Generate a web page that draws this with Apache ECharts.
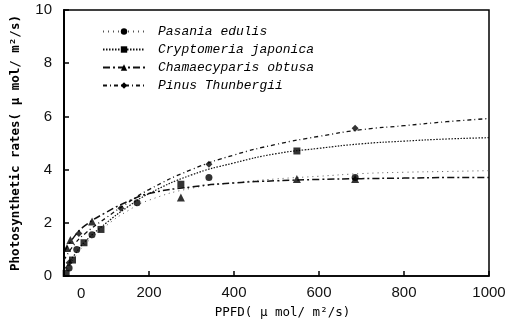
<!DOCTYPE html>
<html><head><meta charset="utf-8">
<script src="https://cdn.jsdelivr.net/npm/echarts@6/dist/echarts.min.js"></script>
<style>html,body{margin:0;padding:0;background:#fff}#c{width:511px;height:324px}</style>
</head><body><div id="c"></div>
<script>
const speciesNames = ['Pasania edulis', 'Cryptomeria japonica', 'Chamaecyparis obtusa', 'Pinus Thunbergii'];
const xTicks = [0, 200, 400, 600, 800, 1000];
const yTicks = [0, 2, 4, 6, 8, 10];
// fitted-curve sampling PPFD values
const curveX = [0, 25, 50, 100, 150, 200, 300, 400, 500, 600, 700, 800, 900, 1000];
const curvePasania = [0.1, 0.7, 1.2, 1.9, 2.45, 2.85, 3.3, 3.5, 3.65, 3.75, 3.85, 3.9, 3.93, 3.96];
const curveCryptomeria = [0.2, 0.8, 1.3, 2.0, 2.6, 3.1, 3.8, 4.25, 4.6, 4.8, 4.97, 5.07, 5.15, 5.2];
const curveChamaecyparis = [0.9, 1.5, 1.9, 2.4, 2.8, 3.1, 3.35, 3.5, 3.58, 3.63, 3.66, 3.68, 3.7, 3.7];
const curvePinus = [0.6, 1.2, 1.6, 2.2, 2.75, 3.25, 4.0, 4.55, 4.95, 5.25, 5.5, 5.65, 5.8, 5.92];
// measured points [PPFD, rate]
const ptsPasania = [[12, 0.3], [30, 1.0], [66, 1.55], [172, 2.75], [341, 3.7], [685, 3.7]];
const ptsCryptomeria = [[5, 0.1], [20, 0.6], [47, 1.25], [87, 1.75], [275, 3.45], [548, 4.7]];
const ptsChamaecyparis = [[7, 1.05], [15, 1.35], [66, 2.05], [275, 2.95], [548, 3.65], [685, 3.65]];
const ptsPinus = [[12, 0.5], [35, 1.6], [134, 2.55], [341, 4.2], [685, 5.55]];

const zip = (xs, ys) => xs.map((x, i) => [x, ys[i]]);
const curves = [curvePasania, curveCryptomeria, curveChamaecyparis, curvePinus];
const pts = [ptsPasania, ptsCryptomeria, ptsChamaecyparis, ptsPinus];
const symbols = ['circle', 'rect', 'triangle', 'diamond'];
const symSizes = [7, 7, 8, 7];
const dashes = [[1, 4], [1.5, 1.5], [7, 3, 2, 3], [4, 3, 1, 3]];
const lineColors = ['#555', '#111', '#111', '#111'];
const lineWidths = [1, 1.2, 1.5, 1.3];

const series = [];
speciesNames.forEach((n, i) => {
  series.push({
    name: n, type: 'line', smooth: true, showSymbol: false,
    symbol: symbols[i], symbolSize: symSizes[i],
    data: zip(curveX, curves[i]),
    itemStyle: { color: '#000' },
    lineStyle: { color: lineColors[i], width: lineWidths[i], type: dashes[i] },
    z: 2
  });
  series.push({
    name: n, type: 'scatter', symbol: symbols[i], symbolSize: symSizes[i],
    data: pts[i], itemStyle: { color: '#000' }, z: 3
  });
});

const GRID = { left: 64, right: 22, top: 10, bottom: 47 };
const chart = echarts.init(document.getElementById('c'), null, { renderer: 'canvas' });
chart.setOption({
  animation: false,
  backgroundColor: '#fff',
  grid: { left: GRID.left, right: GRID.right, top: GRID.top, bottom: GRID.bottom, show: true, borderColor: '#000', borderWidth: 1.5 },
  legend: {
    data: speciesNames, orient: 'vertical', left: 97, top: 20, itemGap: 5,
    itemWidth: 42, itemHeight: 8, selectedMode: false,
    textStyle: { fontFamily: 'Liberation Mono', fontStyle: 'italic', fontSize: 13, color: '#000', padding: [0, 0, 0, 8] }
  },
  graphic: {
    elements: [{
      type: 'text', left: GRID.left + 13, top: 324 - GRID.bottom + 9, z: 100,
      style: { text: '0', fontFamily: 'Liberation Sans', fontSize: 15, fill: '#111' }
    }]
  },
  xAxis: {
    type: 'value', min: xTicks[0], max: xTicks[xTicks.length - 1], interval: 200,
    name: 'PPFD( μ mol/ m²/s)', nameLocation: 'middle', nameGap: 30,
    nameTextStyle: { fontFamily: 'DejaVu Sans Mono', fontSize: 12.5, color: '#000', padding: [0, 0, 0, 12] },
    axisLine: { lineStyle: { color: '#000', width: 1.5 } },
    axisTick: { inside: true, length: 5, lineStyle: { color: '#000', width: 1.5 } },
    splitLine: { show: false },
    axisLabel: {
      margin: 9, fontFamily: 'Liberation Sans', fontSize: 15, color: '#111',
      formatter: v => (v === xTicks[0] ? '' : String(v))
    }
  },
  yAxis: {
    type: 'value', min: yTicks[0], max: yTicks[yTicks.length - 1], interval: 2,
    name: 'Photosynthetic rates( μ mol/ m²/s)', nameLocation: 'middle', nameGap: 42,
    nameTextStyle: { fontFamily: 'DejaVu Sans Mono', fontWeight: 'bold', fontSize: 12.5, color: '#000' },
    axisLine: { lineStyle: { color: '#000', width: 2 } },
    axisTick: { inside: true, length: 5, lineStyle: { color: '#000', width: 1.5 } },
    splitLine: { show: false },
    axisLabel: { margin: 12, fontFamily: 'Liberation Sans', fontSize: 15, color: '#111' }
  },
  series: series
});
</script></body></html>
